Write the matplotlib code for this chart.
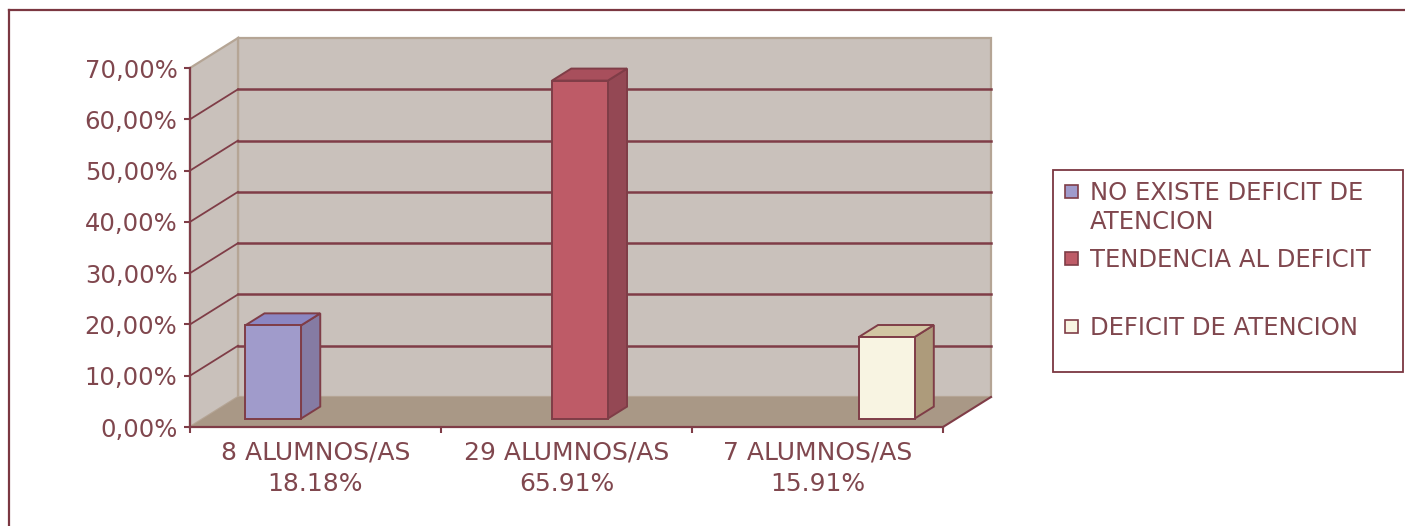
import matplotlib
matplotlib.use("Agg")
import matplotlib.pyplot as plt
from matplotlib.patches import Polygon, Rectangle
from matplotlib.lines import Line2D
from matplotlib.ticker import FuncFormatter

# ---------------- data ----------------
counts = [8, 29, 7]
percentages = [18.18, 65.91, 15.91]
series_names = ["NO EXISTE DEFICIT DE\nATENCION", "TENDENCIA AL DEFICIT", "DEFICIT DE ATENCION"]
no_existe = [18.18, 0, 0]
tendencia = [0, 65.91, 0]
deficit = [0, 0, 15.91]
y_ticks = [0, 10, 20, 30, 40, 50, 60, 70]

# ---------------- style ----------------
front_colors = ["#A09BCB", "#BE5B67", "#F8F4E2"]
side_colors = ["#857BA3", "#944854", "#AD9B7B"]
top_colors = ["#8B86C2", "#A84F5C", "#D2C6A3"]
wall_color = "#C9C1BB"
floor_color = "#A99886"
wall_edge = "#B5A595"
maroon = "#7F3D47"
text_color = "#80474E"
frame_color = "#7B3741"

W, H = 1405, 526
fig = plt.figure(figsize=(W / 100, H / 100), dpi=100)
fig.patch.set_facecolor("white")

ax = fig.add_axes([190 / W, (H - 427) / H, 753 / W, 359 / H])
ncat = len(counts)
ymax = y_ticks[-1]
ax.set_xlim(0, ncat)
ax.set_ylim(0, ymax)
ax.patch.set_visible(False)

# oblique depth offsets (data units)
DX = 48 * ncat / 753
DY = 30 * ymax / 359

# walls
ax.add_patch(Rectangle((DX, DY), ncat, ymax, fc=wall_color, ec=wall_edge, lw=1.6,
                       clip_on=False, zorder=0.5))
ax.add_patch(Polygon([(0, 0), (DX, DY), (DX, ymax + DY), (0, ymax)], closed=True,
                     fc=wall_color, ec=wall_edge, lw=1.6, clip_on=False, zorder=0.5))
# gridlines
for t in y_ticks[1:-1]:
    ax.plot([DX, ncat + DX], [t + DY, t + DY], color=maroon, lw=1.8, clip_on=False, zorder=0.8)
    ax.plot([0, DX], [t, t + DY], color=maroon, lw=1.3, clip_on=False, zorder=0.8)
# floor
ax.add_patch(Polygon([(0, 0), (ncat, 0), (ncat + DX, DY), (DX, DY)], closed=True,
                     fc=floor_color, ec="none", clip_on=False, zorder=1))
ax.plot([ncat, ncat + DX], [0, DY], color=maroon, lw=1.5, clip_on=False, zorder=1.2)

# bars (clustered 3D columns)
w = 1 / 4.5
gap = 0.75 * w
fd, bd = 0.28, 0.68
for i, vals in enumerate([no_existe, tendencia, deficit]):
    for j, v in enumerate(vals):
        if v <= 0:
            continue
        x0 = j + gap + i * w
        x1 = x0 + w
        ax.add_patch(Polygon([(x1 + fd * DX, fd * DY), (x1 + bd * DX, bd * DY),
                              (x1 + bd * DX, v + bd * DY), (x1 + fd * DX, v + fd * DY)],
                             closed=True, fc=side_colors[i], ec=maroon, lw=1.4,
                             clip_on=False, zorder=3))
        ax.add_patch(Polygon([(x0 + fd * DX, v + fd * DY), (x1 + fd * DX, v + fd * DY),
                              (x1 + bd * DX, v + bd * DY), (x0 + bd * DX, v + bd * DY)],
                             closed=True, fc=top_colors[i], ec=maroon, lw=1.4,
                             clip_on=False, zorder=3))
        ax.add_patch(Rectangle((x0 + fd * DX, fd * DY), w, v, fc=front_colors[i],
                               ec=maroon, lw=1.4, clip_on=False, zorder=3.1))

# axes
for s in ["top", "right"]:
    ax.spines[s].set_visible(False)
for s in ["left", "bottom"]:
    ax.spines[s].set_color(maroon)
    ax.spines[s].set_linewidth(1.6)
    ax.spines[s].set_zorder(5)

ax.set_yticks(y_ticks)
ax.yaxis.set_major_formatter(FuncFormatter(lambda v, _: f"{v:.2f}".replace(".", ",") + "%"))
ax.tick_params(axis="y", direction="out", length=4, width=1.5, color=maroon,
               labelcolor=text_color, labelsize=17.5, pad=5)

ax.set_xticks(range(ncat + 1))
ax.set_xticklabels([])
ax.set_xticks([j + 0.5 for j in range(ncat)], minor=True)
ax.set_xticklabels([f"{n} ALUMNOS/AS\n{p:.2f}%" for n, p in zip(counts, percentages)],
                   minor=True)
ax.tick_params(axis="x", which="major", direction="out", length=4, width=1.5, color=maroon)
ax.tick_params(axis="x", which="minor", length=0, pad=10, labelsize=18,
               labelcolor=text_color)
for lbl in ax.get_xticklabels(minor=True):
    lbl.set_linespacing(1.35)

# frame
fig.add_artist(Line2D([9 / W, 9 / W], [1 - 10 / H, 0], transform=fig.transFigure,
                      color=frame_color, lw=1.6))
fig.add_artist(Line2D([9 / W, 1], [1 - 10 / H, 1 - 10 / H], transform=fig.transFigure,
                      color=frame_color, lw=1.6))

# legend
def fx(px):
    return px / W

def fy(py):
    return 1 - py / H

fig.add_artist(Rectangle((fx(1053), fy(372)), (1403 - 1053) / W, (372 - 170) / H,
                         transform=fig.transFigure, fill=False, ec=frame_color, lw=1.3))
entry_tops = [181, 248, 316]
for i, name in enumerate(series_names):
    top = entry_tops[i]
    fig.add_artist(Rectangle((fx(1065), fy(top + 17)), 13 / W, 13 / H,
                             transform=fig.transFigure, fc=front_colors[i],
                             ec=maroon, lw=1.2))
    fig.text(fx(1090), fy(top), name, ha="left", va="top", fontsize=17.5,
             color=text_color, linespacing=1.25)

fig.savefig("out.png", dpi=100, facecolor="white")
